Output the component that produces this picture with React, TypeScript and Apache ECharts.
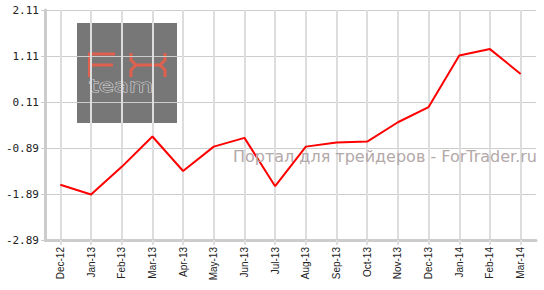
import React, { useEffect, useRef } from "react";
import * as echarts from "echarts";

const categories = [
  "Dec-12", "Jan-13", "Feb-13", "Mar-13", "Apr-13", "May-13", "Jun-13", "Jul-13",
  "Aug-13", "Sep-13", "Oct-13", "Nov-13", "Dec-13", "Jan-14", "Feb-14", "Mar-14",
];
const values = [
  -1.69, -1.9, -1.3, -0.64, -1.39, -0.86, -0.67, -1.72,
  -0.86, -0.77, -0.75, -0.33, 0.0, 1.12, 1.26, 0.72,
];
const yMin = -2.89;
const yMax = 2.11;
const yStep = 1;
const watermark = "Портал для трейдеров - ForTrader.ru";
const logoBottom = "team";

export default function App() {
  const ref = useRef<HTMLDivElement>(null);
  useEffect(() => {
    if (!ref.current) return;
    const chart = echarts.init(ref.current, null, { renderer: "svg" });
    const logoRed = "#e0604e";
    chart.setOption({
      animation: false,
      backgroundColor: "#ffffff",
      grid: { left: 45, top: 10, right: 8, bottom: 50, containLabel: false },
      xAxis: {
        type: "category",
        data: categories,
        boundaryGap: true,
        axisLine: { show: true, onZero: false, lineStyle: { color: "#cccccc", width: 3 } },
        axisTick: { show: true, alignWithLabel: true, length: 5, lineStyle: { color: "#dddddd", width: 2 } },
        axisLabel: {
          rotate: 90,
          fontSize: 10,
          fontFamily: "Liberation Sans, Arial, sans-serif",
          color: "#222",
          margin: 7,
          interval: 0,
        },
        splitLine: { show: true, alignWithLabel: true, lineStyle: { color: "#dddddd", width: 2 } },
        z: 2,
      },
      yAxis: {
        type: "value",
        min: yMin,
        max: yMax,
        interval: yStep,
        axisLine: { show: true, lineStyle: { color: "#cccccc", width: 3 } },
        axisTick: { show: true, length: 4, lineStyle: { color: "#cccccc", width: 1 } },
        axisLabel: {
          formatter: (v: number) => v.toFixed(2),
          fontSize: 11,
          fontFamily: "DejaVu Sans Mono, monospace",
          color: "#222",
          margin: 6,
        },
        splitLine: { show: true, lineStyle: { color: "#cccccc", width: 1 } },
        z: 2,
      },
      series: [
        {
          type: "line",
          data: values,
          showSymbol: false,
          symbol: "none",
          lineStyle: { color: "#ff0000", width: 2 },
          itemStyle: { color: "#ff0000" },
          z: 5,
        },
      ],
      graphic: {
        elements: [
          {
            type: "group",
            z: -10,
            zlevel: 0,
            silent: true,
            children: [
              { type: "rect", shape: { x: 77, y: 23, width: 100, height: 100 }, style: { fill: "#777777" }, z: -10 },
              { type: "polyline", shape: { points: [[115, 54], [89.5, 54], [89.5, 77]] }, style: { stroke: logoRed, lineWidth: 3, fill: null }, z: -9 },
              { type: "line", shape: { x1: 89.5, y1: 65, x2: 113, y2: 65 }, style: { stroke: logoRed, lineWidth: 3 }, z: -9 },
              { type: "polyline", shape: { points: [[131, 53], [131, 60], [136, 65], [160, 65], [165, 60], [165, 53]] }, style: { stroke: logoRed, lineWidth: 3, fill: null }, z: -9 },
              { type: "polyline", shape: { points: [[131, 77], [131, 70], [136, 65]] }, style: { stroke: logoRed, lineWidth: 3, fill: null }, z: -9 },
              { type: "polyline", shape: { points: [[160, 65], [165, 70], [165, 77]] }, style: { stroke: logoRed, lineWidth: 3, fill: null }, z: -9 },
              {
                type: "text",
                x: 89,
                y: 86,
                scaleX: 1.45,
                style: {
                  text: logoBottom,
                  fontSize: 17,
                  fontFamily: "DejaVu Sans, sans-serif",
                  fill: "#777777",
                  stroke: "#d4d4d4",
                  lineWidth: 1,
                  verticalAlign: "middle",
                  align: "left",
                },
                z: -9,
              },
            ],
          },
          {
            type: "text",
            x: 537,
            y: 156,
            z: 100,
            silent: true,
            style: {
              text: watermark,
              fontSize: 16,
              fontFamily: "DejaVu Sans, sans-serif",
              fill: "#b3a9a9",
              align: "right",
              verticalAlign: "middle",
            },
          },
        ],
      },
    });
    return () => chart.dispose();
  }, []);
  return <div ref={ref} style={{ width: 544, height: 290, position: "absolute", left: 0, top: 0 }} />;
}
